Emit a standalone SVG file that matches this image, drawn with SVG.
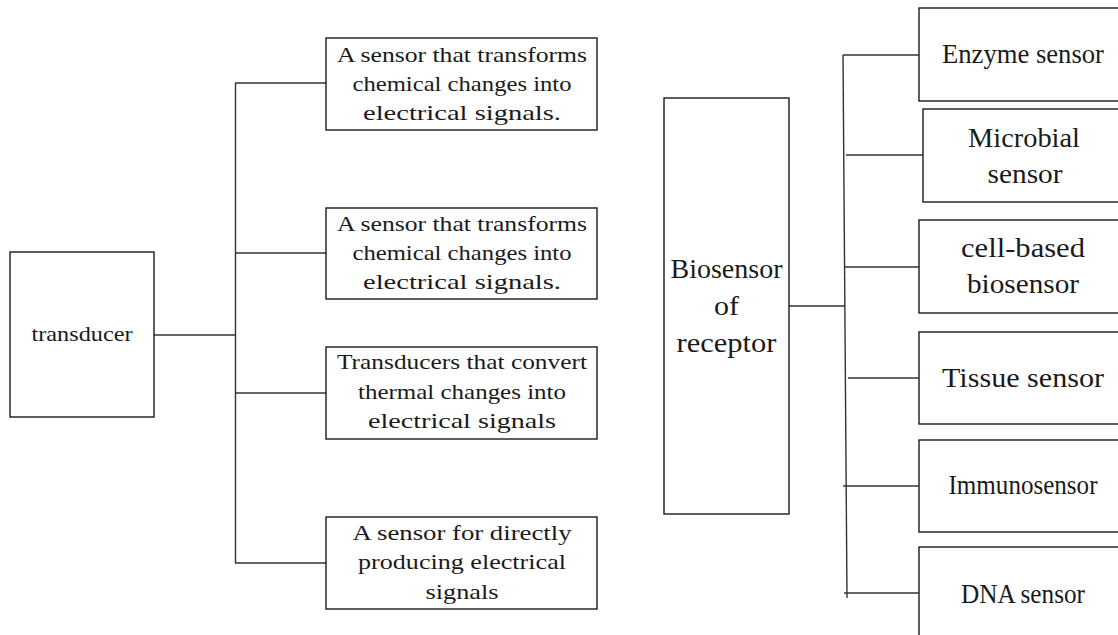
<svg xmlns="http://www.w3.org/2000/svg" width="1118" height="635" viewBox="0 0 1118 635">
<style>
.box{fill:#fff;stroke:#1a1a1a;stroke-width:1.4}
.ln{fill:none;stroke:#333;stroke-width:1.4}
text{font-family:"Liberation Serif","Times New Roman",serif;fill:#1a1a1a;text-anchor:middle}
.s{font-size:22px}
.b{font-size:28px}
</style>
<rect width="1118" height="635" fill="#fff"/>
<g id="connectors">
<line class="ln" x1="154" y1="335" x2="236" y2="335"/>
<line class="ln" x1="235.5" y1="83" x2="235.5" y2="563"/>
<line class="ln" x1="235" y1="83" x2="326" y2="83"/>
<line class="ln" x1="235" y1="253" x2="326" y2="253"/>
<line class="ln" x1="235" y1="393" x2="326" y2="393"/>
<line class="ln" x1="235" y1="563" x2="326" y2="563"/>
<line class="ln" x1="789" y1="306" x2="845" y2="306"/>
<line class="ln" x1="843" y1="55" x2="847" y2="598"/>
<line class="ln" x1="843" y1="55" x2="919" y2="55"/>
<line class="ln" x1="846" y1="155" x2="923" y2="155"/>
<line class="ln" x1="845" y1="267" x2="919" y2="267"/>
<line class="ln" x1="848" y1="378" x2="919" y2="378"/>
<line class="ln" x1="843" y1="486" x2="919" y2="486"/>
<line class="ln" x1="844" y1="593" x2="919" y2="593"/>
</g>
<g id="transducer">
<rect class="box" x="10" y="252" width="144" height="165"/>
<text class="s" x="82" y="341" textLength="101" lengthAdjust="spacingAndGlyphs">transducer</text>
</g>
<g id="t1">
<rect class="box" x="326" y="38" width="271" height="92"/>
<text class="s" x="462" y="62" textLength="250" lengthAdjust="spacingAndGlyphs">A sensor that transforms</text>
<text class="s" x="462" y="91" textLength="219" lengthAdjust="spacingAndGlyphs">chemical changes into</text>
<text class="s" x="462" y="120" textLength="198" lengthAdjust="spacingAndGlyphs">electrical signals.</text>
</g>
<g id="t2">
<rect class="box" x="326" y="208" width="271" height="91"/>
<text class="s" x="462" y="231" textLength="250" lengthAdjust="spacingAndGlyphs">A sensor that transforms</text>
<text class="s" x="462" y="260" textLength="219" lengthAdjust="spacingAndGlyphs">chemical changes into</text>
<text class="s" x="462" y="289" textLength="198" lengthAdjust="spacingAndGlyphs">electrical signals.</text>
</g>
<g id="t3">
<rect class="box" x="326" y="347" width="271" height="92"/>
<text class="s" x="462" y="369" textLength="250" lengthAdjust="spacingAndGlyphs">Transducers that convert</text>
<text class="s" x="462" y="399" textLength="208" lengthAdjust="spacingAndGlyphs">thermal changes into</text>
<text class="s" x="462" y="428" textLength="188" lengthAdjust="spacingAndGlyphs">electrical signals</text>
</g>
<g id="t4">
<rect class="box" x="326" y="517" width="271" height="92"/>
<text class="s" x="462" y="540" textLength="219" lengthAdjust="spacingAndGlyphs">A sensor for directly</text>
<text class="s" x="462" y="569" textLength="208" lengthAdjust="spacingAndGlyphs">producing electrical</text>
<text class="s" x="462" y="599" textLength="73" lengthAdjust="spacingAndGlyphs">signals</text>
</g>
<g id="biosensor">
<rect class="box" x="664" y="98" width="125" height="416"/>
<text class="b" x="726.5" y="278" textLength="112" lengthAdjust="spacingAndGlyphs">Biosensor</text>
<text class="b" x="726.5" y="315" textLength="25" lengthAdjust="spacingAndGlyphs">of</text>
<text class="b" x="726.5" y="352" textLength="100" lengthAdjust="spacingAndGlyphs">receptor</text>
</g>
<g id="enzyme">
<rect class="box" x="919" y="8" width="210" height="93"/>
<text class="b" x="1023" y="63" textLength="162" lengthAdjust="spacingAndGlyphs">Enzyme sensor</text>
</g>
<g id="microbial">
<rect class="box" x="923" y="109" width="210" height="93"/>
<text class="b" x="1024" y="147" textLength="112" lengthAdjust="spacingAndGlyphs">Microbial</text>
<text class="b" x="1025" y="183" textLength="75" lengthAdjust="spacingAndGlyphs">sensor</text>
</g>
<g id="cell">
<rect class="box" x="919" y="220" width="210" height="93"/>
<text class="b" x="1023" y="257" textLength="124" lengthAdjust="spacingAndGlyphs">cell-based</text>
<text class="b" x="1023" y="293" textLength="112" lengthAdjust="spacingAndGlyphs">biosensor</text>
</g>
<g id="tissue">
<rect class="box" x="919" y="332" width="210" height="92"/>
<text class="b" x="1023" y="387" textLength="162" lengthAdjust="spacingAndGlyphs">Tissue sensor</text>
</g>
<g id="immuno">
<rect class="box" x="919" y="440" width="210" height="92"/>
<text class="b" x="1023" y="494" textLength="149" lengthAdjust="spacingAndGlyphs">Immunosensor</text>
</g>
<g id="dna">
<rect class="box" x="919" y="547" width="210" height="120"/>
<text class="b" x="1023" y="603" textLength="124" lengthAdjust="spacingAndGlyphs">DNA sensor</text>
</g>
</svg>
